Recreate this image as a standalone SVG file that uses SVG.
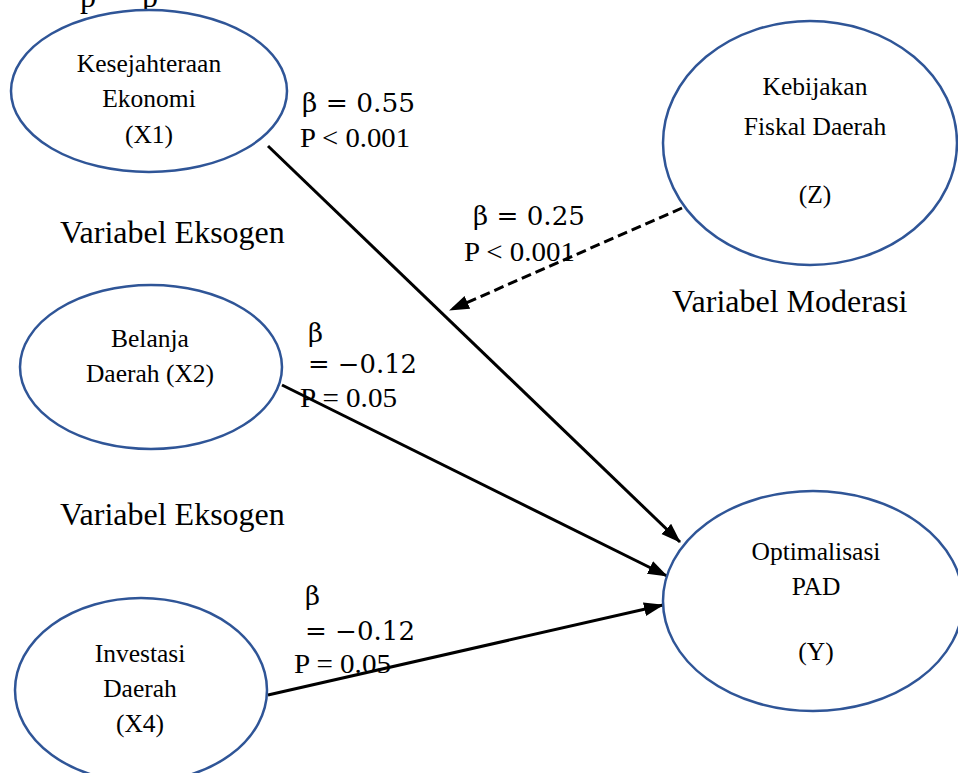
<svg xmlns="http://www.w3.org/2000/svg" width="958" height="773" viewBox="0 0 958 773">
<defs>
<style>
.node{fill:#fff;stroke:#2F5597;stroke-width:2.5}
.nt{font-family:"Liberation Serif","Times New Roman",serif;font-size:25.5px;fill:#000;text-anchor:middle}
.lbl{font-family:"Liberation Serif","Times New Roman",serif;font-size:32px;fill:#000}
.st{font-family:"Liberation Serif","Times New Roman",serif;font-size:28px;fill:#000}
.math{font-family:"DejaVu Serif","Liberation Serif",serif;font-size:26px;fill:#000}
.edge{stroke:#000;stroke-width:3;fill:none}
.dash{stroke-dasharray:10 5}
</style>
<marker id="ah" markerUnits="userSpaceOnUse" markerWidth="22" markerHeight="16" refX="19" refY="7" orient="auto">
<path d="M0,0 L20,7 L0,14 z" fill="#000"/>
</marker>
</defs>
<rect width="958" height="773" fill="#fff"/>
<text class="lbl" x="80" y="7">p</text>
<text class="lbl" x="142" y="7">p</text>
<g id="connectors">
<line class="edge" x1="268" y1="146" x2="680" y2="542" marker-end="url(#ah)"/>
<line class="edge" x1="282" y1="385" x2="667" y2="576" marker-end="url(#ah)"/>
<line class="edge" x1="268" y1="695" x2="663" y2="605" marker-end="url(#ah)"/>
<line class="edge dash" x1="682" y1="208" x2="450" y2="310" marker-end="url(#ah)"/>
</g>
<g id="X1">
<ellipse class="node" cx="149" cy="91" rx="138" ry="81"/>
<text class="nt" x="149" y="72">Kesejahteraan</text>
<text class="nt" x="149" y="107">Ekonomi</text>
<text class="nt" x="149" y="143">(X1)</text>
</g>
<g id="Z">
<ellipse class="node" cx="810" cy="143" rx="147" ry="122"/>
<text class="nt" x="815" y="95">Kebijakan</text>
<text class="nt" x="815" y="135">Fiskal Daerah</text>
<text class="nt" x="815" y="203">(Z)</text>
</g>
<g id="X2">
<ellipse class="node" cx="151" cy="367" rx="131" ry="82"/>
<text class="nt" x="150" y="347">Belanja</text>
<text class="nt" x="150" y="382">Daerah (X2)</text>
</g>
<g id="X4">
<ellipse class="node" cx="141" cy="690" rx="126" ry="92"/>
<text class="nt" x="140" y="662">Investasi</text>
<text class="nt" x="140" y="697">Daerah</text>
<text class="nt" x="140" y="732">(X4)</text>
</g>
<g id="Y">
<ellipse class="node" cx="813" cy="601" rx="150" ry="110"/>
<text class="nt" x="816" y="560">Optimalisasi</text>
<text class="nt" x="816" y="595">PAD</text>
<text class="nt" x="816" y="660">(Y)</text>
</g>
<g id="labels">
<text class="lbl" x="60" y="243">Variabel Eksogen</text>
<text class="lbl" x="60" y="525">Variabel Eksogen</text>
<text class="lbl" x="672" y="312">Variabel Moderasi</text>
<text class="math" x="302" y="112" textLength="113" lengthAdjust="spacingAndGlyphs">β =  0.55</text>
<text class="st" x="300" y="147" textLength="110" lengthAdjust="spacingAndGlyphs">P &lt; 0.001</text>
<text class="math" x="473" y="225" textLength="112" lengthAdjust="spacingAndGlyphs">β =  0.25</text>
<text class="st" x="464" y="261" textLength="111" lengthAdjust="spacingAndGlyphs">P &lt; 0.001</text>
<text class="math" x="308" y="342">β</text>
<text class="math" x="308" y="373" textLength="109" lengthAdjust="spacingAndGlyphs">=  −0.12</text>
<text class="st" x="300" y="407" textLength="97" lengthAdjust="spacingAndGlyphs">P = 0.05</text>
<text class="math" x="305" y="605">β</text>
<text class="math" x="305" y="640" textLength="110" lengthAdjust="spacingAndGlyphs">=  −0.12</text>
<text class="st" x="294" y="673" textLength="97" lengthAdjust="spacingAndGlyphs">P = 0.05</text>
</g>
</svg>
